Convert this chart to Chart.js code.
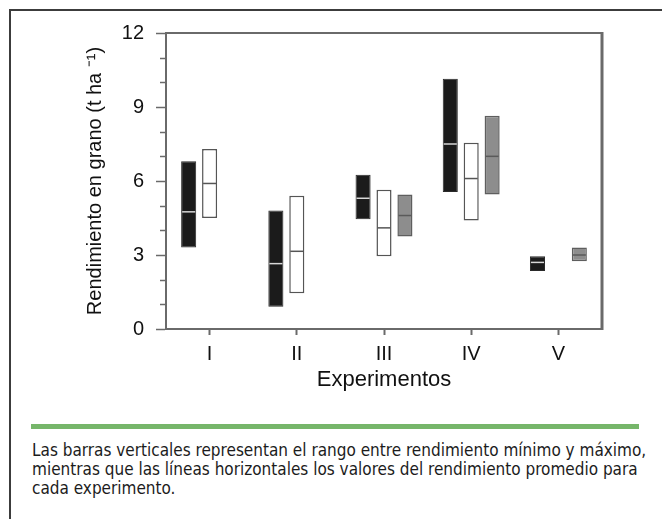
<!DOCTYPE html>
<html lang="es">
<head>
<meta charset="utf-8">
<title>Rendimiento en grano por experimento</title>
<script src="https://cdn.jsdelivr.net/npm/chart.js@4.4.1/dist/chart.umd.min.js"></script>
<style>
  html, body { margin: 0; padding: 0; background: #fff; }
  body { width: 662px; height: 519px; position: relative; overflow: hidden; }
  #frame {
    position: absolute; left: 9px; top: 9px; right: -4px; bottom: -4px;
    border-top: 2px solid #3c3c3c; border-left: 2px solid #3c3c3c;
  }
  #wrap { position: absolute; left: 0; top: 0; width: 662px; height: 420px; }
  #chart { filter: blur(0.35px); }
  #rule {
    position: absolute; left: 31px; top: 424px; width: 608px; height: 5px;
    background: #76b66a;
  }
  #caption {
    position: absolute; left: 32px; top: 441px; width: 625px;
    font-family: "Liberation Sans Narrow", "DejaVu Sans Condensed", "Liberation Sans", sans-serif;
    font-size: 17px; line-height: 19px; color: #1c1c1c;
  }
</style>
</head>
<body>
<div id="frame"></div>
<div id="wrap"><canvas id="chart" width="662" height="420"></canvas></div>
<div id="rule"></div>
<div id="caption">Las barras verticales representan el rango entre rendimiento mínimo y máximo,<br>mientras que las líneas horizontales los valores del rendimiento promedio para<br>cada experimento.</div>

<script>
// Experiments on the x axis
const categories = ['I', 'II', 'III', 'IV', 'V'];

// Grain yield (t/ha) for three groups: minimum, maximum and mean per experiment
const blackMin  = [3.3, 0.9, 4.45, 5.55, 2.35];
const blackMax  = [6.8, 4.8, 6.25, 10.15, 2.95];
const blackMean = [4.75, 2.65, 5.3, 7.5, 2.7];

const whiteMin  = [4.5, 1.45, 2.95, 4.4, null];
const whiteMax  = [7.3, 5.4, 5.65, 7.55, null];
const whiteMean = [5.9, 3.15, 4.1, 6.1, null];

const grayMin  = [null, null, 3.75, 5.45, 2.75];
const grayMax  = [null, null, 5.45, 8.65, 3.3];
const grayMean = [null, null, 4.6, 7.0, 3.0];

// Y axis: labelled every 3 units, minor marks every unit
const yTicks = [0, 3, 6, 9, 12];

const ranges = (lo, hi) => lo.map((v, i) => (v === null || hi[i] === null) ? null : [v, hi[i]]);

const FONT = '"Liberation Sans", Arial, Helvetica, sans-serif';
const AXIS = '#6a6a6a';
const INK = '#111111';

// Horizontal mean line across each floating bar
const meanLines = {
  id: 'meanLines',
  afterDatasetsDraw(chart) {
    const { ctx } = chart;
    const y = chart.scales.y;
    chart.data.datasets.forEach((ds, i) => {
      const meta = chart.getDatasetMeta(i);
      meta.data.forEach((el, j) => {
        const m = ds.means[j];
        if (m === null || ds.data[j] === null) return;
        const py = y.getPixelForValue(m);
        const half = el.width / 2;
        ctx.save();
        ctx.strokeStyle = ds.meanColor;
        ctx.lineWidth = 1.5;
        ctx.beginPath();
        ctx.moveTo(el.x - half + 1, py);
        ctx.lineTo(el.x + half - 1, py);
        ctx.stroke();
        ctx.restore();
      });
    });
  }
};

// Closed plot box (top and right edges) and minor y tick marks
const plotBox = {
  id: 'plotBox',
  afterDraw(chart) {
    const { ctx, chartArea: a } = chart;
    const y = chart.scales.y;
    ctx.save();
    ctx.strokeStyle = AXIS;
    ctx.lineWidth = 2;
    ctx.beginPath();
    ctx.moveTo(a.left - 1, a.top);
    ctx.lineTo(a.right, a.top);
    ctx.stroke();
    ctx.lineWidth = 3;
    ctx.beginPath();
    ctx.moveTo(a.right, a.top - 1);
    ctx.lineTo(a.right, a.bottom + 1);
    ctx.stroke();
    ctx.lineWidth = 1.5;
    for (let v = y.min; v <= y.max; v++) {
      if (yTicks.includes(v)) continue;
      const py = Math.round(y.getPixelForValue(v)) + 0.5;
      ctx.beginPath();
      ctx.moveTo(a.left - 6, py);
      ctx.lineTo(a.left, py);
      ctx.stroke();
    }
    ctx.restore();
  }
};

const barCommon = {
  barPercentage: 0.72,
  categoryPercentage: 0.72,
  borderSkipped: false
};

new Chart(document.getElementById('chart'), {
  type: 'bar',
  data: {
    labels: categories,
    datasets: [
      Object.assign({
        label: 'Negro',
        data: ranges(blackMin, blackMax),
        means: blackMean,
        backgroundColor: '#1b1b1b',
        borderColor: '#2a2a2a',
        borderWidth: 1,
        meanColor: '#d8d8d8'
      }, barCommon),
      Object.assign({
        label: 'Blanco',
        data: ranges(whiteMin, whiteMax),
        means: whiteMean,
        backgroundColor: '#ffffff',
        borderColor: '#555555',
        borderWidth: 1.5,
        meanColor: '#555555'
      }, barCommon),
      Object.assign({
        label: 'Gris',
        data: ranges(grayMin, grayMax),
        means: grayMean,
        backgroundColor: '#8d8d8d',
        borderColor: '#5e5e5e',
        borderWidth: 1.5,
        meanColor: '#5a5a5a'
      }, barCommon)
    ]
  },
  options: {
    responsive: false,
    animation: false,
    devicePixelRatio: 1,
    layout: { padding: { left: 66, right: 60, top: 33, bottom: 21 } },
    plugins: {
      legend: { display: false },
      tooltip: { enabled: false }
    },
    scales: {
      x: {
        offset: true,
        grid: {
          offset: false,
          drawOnChartArea: false,
          tickLength: 6,
          tickColor: AXIS,
          tickWidth: 2
        },
        border: { color: AXIS, width: 2 },
        ticks: {
          color: INK,
          padding: 7,
          font: { family: FONT, size: 20 }
        },
        title: {
          display: true,
          text: 'Experimentos',
          color: INK,
          padding: { top: 0, bottom: 6 },
          font: { family: FONT, size: 22 }
        },
        afterFit(scale) { scale.height = 70; }
      },
      y: {
        min: 0,
        max: 12,
        afterBuildTicks(scale) {
          scale.ticks = yTicks.map(v => ({ value: v }));
        },
        grid: {
          drawOnChartArea: false,
          tickLength: 10,
          tickColor: AXIS,
          tickWidth: 1.5
        },
        border: { color: AXIS, width: 2 },
        ticks: {
          color: INK,
          padding: 12,
          font: { family: FONT, size: 20 }
        },
        title: {
          display: true,
          text: 'Rendimiento en grano (t ha ⁻¹)',
          color: INK,
          padding: { top: 17, bottom: 0 },
          font: { family: FONT, size: 20 }
        },
        afterFit(scale) { scale.width = 100; }
      }
    }
  },
  plugins: [meanLines, plotBox]
});
</script>
</body>
</html>
